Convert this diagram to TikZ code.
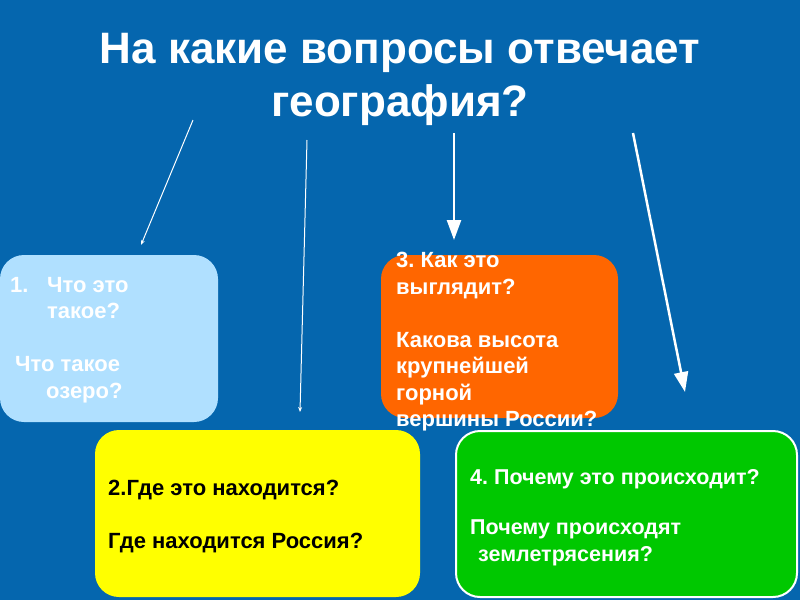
\documentclass[tikz,border=0pt]{standalone}
\usepackage{fontspec}
\setmainfont{Liberation Sans}
\usetikzlibrary{arrows.meta}
\definecolor{bg}{HTML}{0566AE}
\definecolor{lblue}{HTML}{B0E0FF}
\definecolor{orng}{HTML}{FF6600}
\definecolor{yell}{HTML}{FFFF00}
\definecolor{grn}{HTML}{00C800}
\frenchspacing
\begin{document}
\begin{tikzpicture}[x=1pt,y=-1pt,
  box/.style={rounded corners=24pt, anchor=north west, inner sep=0pt, outer sep=0pt},
  txt/.style={anchor=north west, inner sep=0pt, align=left, font=\fontsize{22}{26.5}\selectfont\bfseries},
  thinarrow/.style={draw=white, line width=1pt, -{Stealth[length=5pt,width=4pt]}},
  thickarrow/.style={draw=white, line width=2.5pt, -{Triangle[length=20pt,width=14pt,fill=white]}}]
\useasboundingbox (0,0) rectangle (800,600);
\fill[bg] (0,0) rectangle (800,600);
% title
\node[anchor=north, inner sep=0pt, align=center, text=white,
      font=\fontsize{44}{53}\selectfont\bfseries] (title) at (400,33)
      {На какие вопросы отвечает\\география?};
% boxes
\node[box, fill=lblue, minimum width=218pt, minimum height=167pt] (b1) at (0,255) {};
\node[box, fill=orng, minimum width=237pt, minimum height=163pt] (b3) at (381,255) {};
\node[box, fill=yell, minimum width=325pt, minimum height=167pt] (b2) at (95,430) {};
\node[box, fill=grn, draw=white, line width=2pt, minimum width=341pt, minimum height=166pt] (b4) at (456,431) {};
% texts
\node[txt, text=white] (t1) at (10,277)
  {\makebox[37pt][l]{1.}Что это\\\hspace*{37pt}такое?\\[26.5pt]\hspace*{5pt}Что такое\\\hspace*{36pt}озеро?};
\node[txt, text=white] (t3) at (396,252)
  {3. Как это\\выглядит?\\[26.5pt]Какова высота\\крупнейшей\\горной\\вершины России?};
\node[txt, text=black] (t2) at (108,480)
  {2.Где это находится?\\[26.5pt]Где находится Россия?};
\node[txt, text=white, font=\fontsize{21.5}{27}\selectfont\bfseries] (t4) at (470,469)
  {4. Почему это происходит?\\[23pt]Почему происходят\\\hspace*{8pt}землетрясения?};
% arrows
\coordinate (a1s) at (193,120); \coordinate (a1e) at (141,245);
\coordinate (a2s) at (307,140); \coordinate (a2e) at (300,412);
\coordinate (a3s) at (454,133); \coordinate (a3e) at (454,240);
\coordinate (a4s) at (633,133); \coordinate (a4e) at (685,392);
\draw[thinarrow] (a1s) -- (a1e);
\draw[thinarrow] (a2s) -- (a2e);
\draw[thickarrow] (a3s) -- (a3e);
\draw[thickarrow] (a4s) -- (a4e);
\end{tikzpicture}
\end{document}
